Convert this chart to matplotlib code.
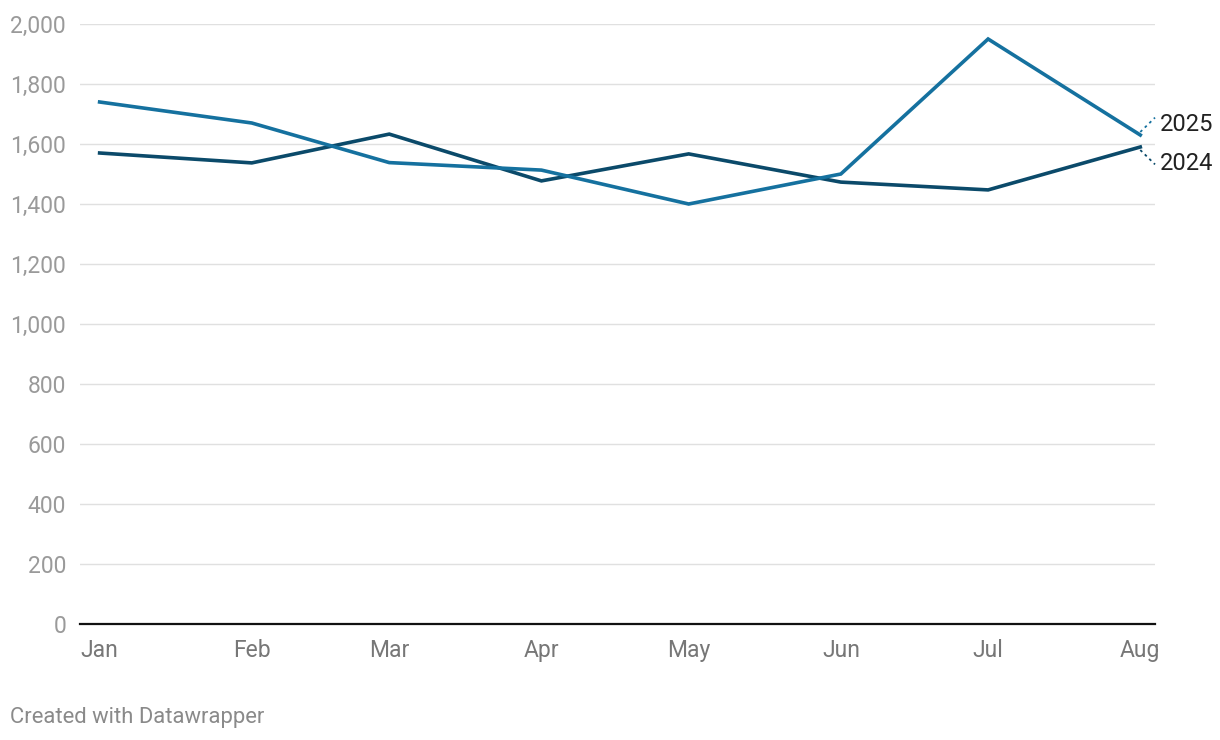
import datetime as dt

import matplotlib
matplotlib.use("Agg")
import matplotlib.pyplot as plt

plt.rcParams["font.family"] = ["Roboto", "DejaVu Sans"]

months = ["Jan", "Feb", "Mar", "Apr", "May", "Jun", "Jul", "Aug"]
dates = [dt.date(2025, m, 1) for m in range(1, 9)]
vals_2025 = [1740, 1670, 1538, 1513, 1400, 1500, 1950, 1630]
vals_2024 = [1570, 1537, 1633, 1477, 1567, 1473, 1447, 1590]
yticks = [0, 200, 400, 600, 800, 1000, 1200, 1400, 1600, 1800, 2000]

C25 = "#15719f"
C24 = "#0b4a6a"

fig = plt.figure(figsize=(12.2, 7.4), dpi=100)
ax = fig.add_axes([80 / 1220, 1 - 624 / 740, 1075 / 1220, 600 / 740])

ax.plot(dates, vals_2024, color=C24, lw=2.6, solid_joinstyle="miter", zorder=3)
ax.plot(dates, vals_2025, color=C25, lw=2.6, solid_joinstyle="miter", zorder=4)

ax.set_ylim(0, 2000)
ax.set_xlim(dates[0] - dt.timedelta(days=4.1), dates[-1] + dt.timedelta(days=3.8))
ax.set_yticks(yticks)
ax.set_yticklabels([f"{v:,}" for v in yticks])
ax.set_xticks(dates)
ax.set_xticklabels(months)
ax.grid(axis="y", color="#e0e0e0", lw=1)
ax.set_axisbelow(True)
for s in ["top", "right", "left"]:
    ax.spines[s].set_visible(False)
ax.spines["bottom"].set_color("#111111")
ax.spines["bottom"].set_linewidth(1.6)
ax.spines["bottom"].set_zorder(5)
ax.tick_params(axis="y", length=0, pad=10, labelsize=16.5, labelcolor="#9a9a9a")
ax.tick_params(axis="x", length=0, pad=11, labelsize=16.5, labelcolor="#777777")

# end labels with dotted connectors
last = dates[-1]
end = last + dt.timedelta(days=3.3)
ax.plot([last, end], [vals_2025[-1] + 10, vals_2025[-1] + 58], color=C25, lw=1.3,
        ls=(0, (1.5, 2)), clip_on=False)
ax.plot([last, end], [vals_2024[-1] - 10, vals_2024[-1] - 58], color=C24, lw=1.3,
        ls=(0, (1.5, 2)), clip_on=False)
lab = last + dt.timedelta(days=4.4)
ax.text(lab, vals_2025[-1] + 35, "2025", fontsize=17, color="#222222",
        va="center", ha="left", clip_on=False)
ax.text(lab, vals_2024[-1] - 55, "2024", fontsize=17, color="#222222",
        va="center", ha="left", clip_on=False)

fig.text(10 / 1220, 1 - 717 / 740, "Created with Datawrapper", fontsize=15.8,
         color="#8a8a8a", va="center", ha="left")

fig.savefig("out.png", dpi=100, facecolor="white")
